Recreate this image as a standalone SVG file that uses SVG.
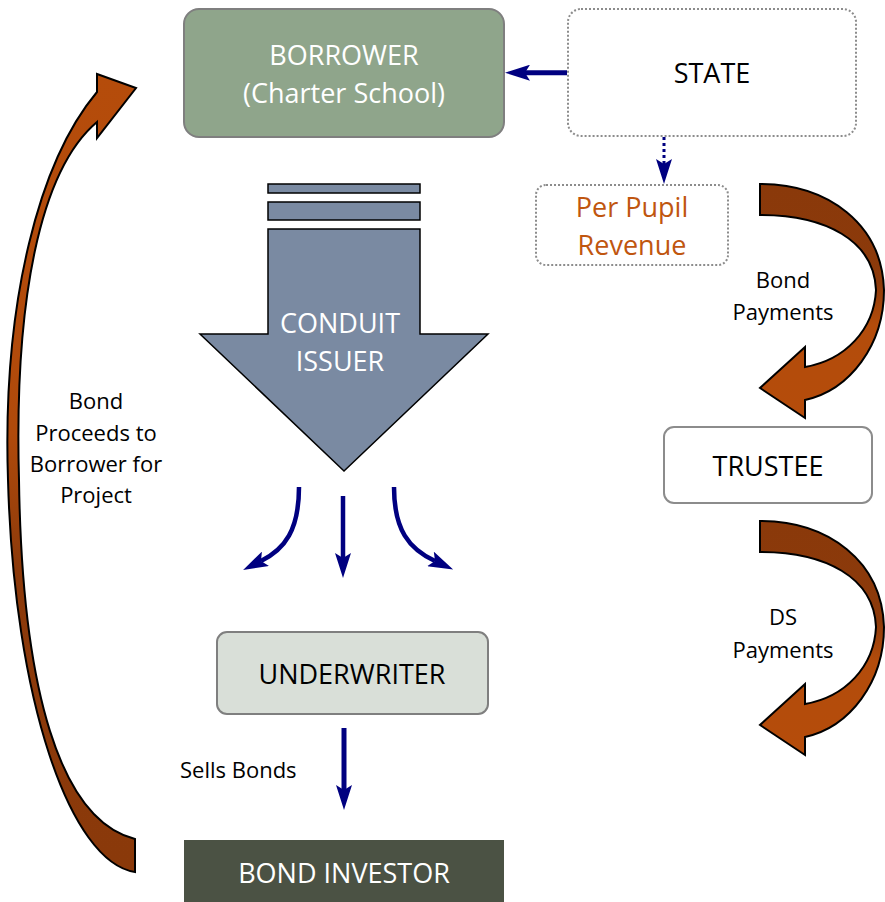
<svg xmlns="http://www.w3.org/2000/svg" xmlns:xlink="http://www.w3.org/1999/xlink" width="885" height="902" viewBox="0 0 885 902">
<style>
  .t { font-family: "Open Sans", "Liberation Sans", sans-serif; font-size: 27px; text-anchor: middle; }
  .lbl { font-family: "Open Sans", "Liberation Sans", sans-serif; font-size: 22px; text-anchor: middle; fill: #000; }
  .w { fill: #ffffff; }
  .k { fill: #000000; }
  .o { fill: #C0560F; }
  .solid { fill: none; stroke: #000080; stroke-width: 5; }
  .thin { fill: none; stroke: #000080; stroke-width: 4.5; }
  .dot { fill: none; stroke: #000080; stroke-width: 3; stroke-dasharray: 3 3; }
  .big { stroke: #000; stroke-width: 2; stroke-linejoin: miter; }
</style>
<defs>
  <marker id="ah" viewBox="0 0 25 16" markerWidth="25" markerHeight="16" markerUnits="userSpaceOnUse" refX="5" refY="8" orient="auto">
    <path d="M0,0 L25,8 L0,16 L5,8 Z" fill="#000080"/>
  </marker>
  <linearGradient id="gl" gradientUnits="userSpaceOnUse" x1="0" y1="74" x2="0" y2="872">
    <stop offset="0" stop-color="#B54C0B"/>
    <stop offset="0.45" stop-color="#B04A0B"/>
    <stop offset="0.62" stop-color="#8C3A0B"/>
    <stop offset="1" stop-color="#8A390A"/>
  </linearGradient>
  <linearGradient id="gr" gradientUnits="userSpaceOnUse" x1="0" y1="184" x2="0" y2="418">
    <stop offset="0" stop-color="#8A390A"/>
    <stop offset="0.42" stop-color="#8C3A0B"/>
    <stop offset="0.6" stop-color="#B34C0B"/>
    <stop offset="1" stop-color="#B54C0B"/>
  </linearGradient>
  <path id="rarrow" d="M760,184 C828,184 882,224 884,290 C884,345 850,390 805,400 L805,418 L760,388 L805,347 L805,367 C845,360 874,330 876,290 C874,240 825,215 760,215 Z"/>
</defs>

<g id="borrower">
  <rect x="184" y="9" width="320" height="128" rx="15" fill="#8FA58B" stroke="#7F7F7F" stroke-width="2"/>
  <text class="t w" x="344" y="65">BORROWER</text>
  <text class="t w" x="344" y="103">(Charter School)</text>
</g>

<g id="state">
  <rect x="568" y="9" width="288" height="127" rx="13" fill="#ffffff" stroke="#8C8C8C" stroke-width="2" stroke-dasharray="2 2"/>
  <text class="t k" x="712" y="83">STATE</text>
</g>

<g id="per-pupil-revenue">
  <rect x="536" y="185" width="192" height="80" rx="10" fill="#ffffff" stroke="#8C8C8C" stroke-width="2" stroke-dasharray="2 2"/>
  <text class="t o" x="632" y="217">Per Pupil</text>
  <text class="t o" x="632" y="255">Revenue</text>
</g>

<g id="conduit-issuer">
  <rect x="268" y="184" width="152" height="9" fill="#7A8AA2" stroke="#000" stroke-width="1.5"/>
  <rect x="268" y="202" width="152" height="18" fill="#7A8AA2" stroke="#000" stroke-width="1.5"/>
  <polygon points="268,229 420,229 420,334 488,334 344,471 200,334 268,334" fill="#7A8AA2" stroke="#000" stroke-width="1.5"/>
  <text class="t w" x="340" y="333">CONDUIT</text>
  <text class="t w" x="340" y="371">ISSUER</text>
</g>

<g id="trustee">
  <rect x="664" y="427" width="208" height="76" rx="10" fill="#ffffff" stroke="#8C8C8C" stroke-width="2"/>
  <text class="t k" x="768" y="476">TRUSTEE</text>
</g>

<g id="underwriter">
  <rect x="217" y="632" width="271" height="82" rx="10" fill="#D9DFD8" stroke="#7F7F7F" stroke-width="2"/>
  <text class="t k" x="352" y="684">UNDERWRITER</text>
</g>

<g id="bond-investor">
  <rect x="184" y="840" width="320" height="64" fill="#4B5244"/>
  <text class="t w" x="344" y="883">BOND INVESTOR</text>
</g>

<g id="connectors">
  <path class="solid" d="M567,72.7 L525,72.7" marker-end="url(#ah)"/>
  <path class="dot" d="M664,137 L664,164" marker-end="url(#ah)"/>
  <path class="thin" d="M299,487 C299,530 285,549 261,561" marker-end="url(#ah)"/>
  <path class="thin" d="M343,496 L343,558" marker-end="url(#ah)"/>
  <path class="thin" d="M394,487 C394,530 409,549 435,561" marker-end="url(#ah)"/>
  <path class="solid" d="M344,728 L344,790" marker-end="url(#ah)"/>
  <path id="proceeds-arrow" class="big" fill="url(#gl)" d="M135,872 C70,862 14,700 8,480 C2,300 40,160 97,92 L97,74 L136,88 L97,138 L97,122 C40,170 14,300 19,480 C22,690 60,820 135,839 Z"/>
  <use id="bond-payments-arrow" xlink:href="#rarrow" class="big" fill="url(#gr)"/>
  <use id="ds-payments-arrow" xlink:href="#rarrow" class="big" fill="url(#gr)" transform="translate(0,337)"/>
</g>

<g id="labels">
  <text class="lbl" x="96" y="409">Bond</text>
  <text class="lbl" x="96" y="441">Proceeds to</text>
  <text class="lbl" x="96" y="472">Borrower for</text>
  <text class="lbl" x="96" y="503">Project</text>
  <text class="lbl" x="783" y="288">Bond</text>
  <text class="lbl" x="783" y="320">Payments</text>
  <text class="lbl" x="783" y="625">DS</text>
  <text class="lbl" x="783" y="658">Payments</text>
  <text class="lbl" x="180" y="778" style="text-anchor:start">Sells Bonds</text>
</g>
</svg>
